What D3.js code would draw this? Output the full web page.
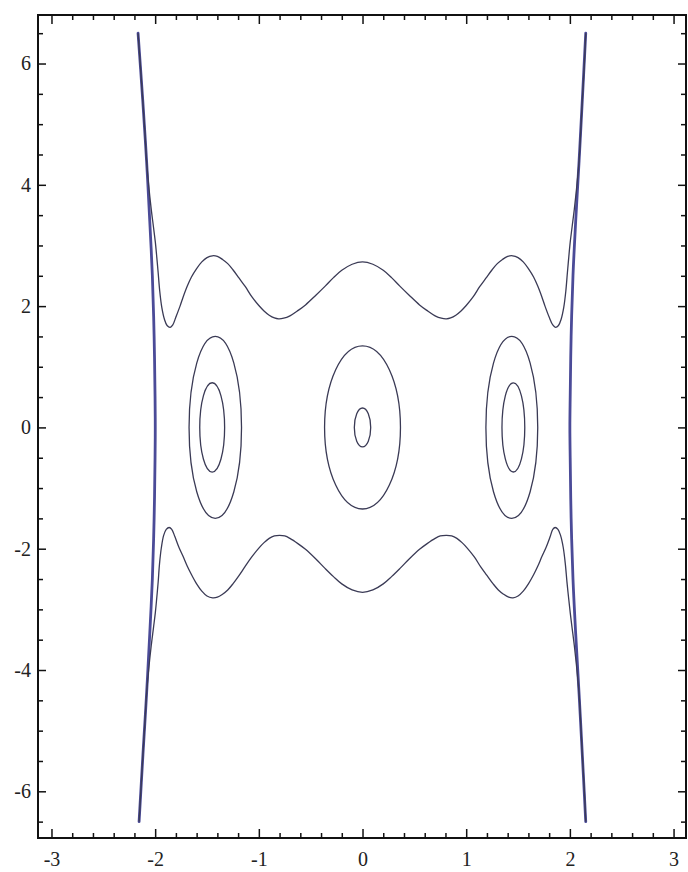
<!DOCTYPE html>
<html>
<head>
<meta charset="utf-8">
<script src="https://cdn.jsdelivr.net/npm/d3@7"></script>
<style>
  body { margin: 0; background: #fff; }
  svg { display: block; }
</style>
</head>
<body>
<script>
// contour lines of a 1-d potential phase portrait

var xMajor = [-3, -2, -1, 0, 1, 2, 3];
var xLabels = ["-3", "-2", "-1", "0", "1", "2", "3"];
var yMajor = [-6, -4, -2, 0, 2, 4, 6];
var yLabels = ["-6", "-4", "-2", "0", "2", "4", "6"];

// outer walls (thick, bluish)
var wallLeft = [[-2.165,6.5],[-2.12,5.4],[-2.083,4.4],[-2.052,3.4],[-2.027,2.5],[-2.01,1.5],[-2.001,0.5],[-1.999,0],
  [-2.001,-0.5],[-2.01,-1.5],[-2.027,-2.5],[-2.052,-3.4],[-2.083,-4.4],[-2.118,-5.4],[-2.155,-6.5]];
var wallRight = [[2.153,6.5],[2.12,5.4],[2.089,4.4],[2.056,3.4],[2.03,2.5],[2.012,1.5],[2.003,0.5],[2.0,0],
  [2.003,-0.5],[2.012,-1.5],[2.03,-2.5],[2.056,-3.4],[2.089,-4.4],[2.12,-5.4],[2.153,-6.5]];

// wavy open contours, running down/up along the walls
var waveTop = [[-2.165,6.5],[-2.14,5.9],[-2.12,5.4],[-2.1,4.9],[-2.083,4.4],[-2.063,4.0],[-2.038,3.6],[-2.016,3.3],
  [-1.998,3.05],[-1.984,2.8],[-1.971,2.55],[-1.956,2.25],[-1.936,1.98],[-1.91,1.78],[-1.885,1.68],[-1.855,1.65],
  [-1.83,1.69],[-1.8,1.82],[-1.76,2.0],[-1.73,2.15],[-1.69,2.33],[-1.65,2.48],[-1.6,2.62],[-1.55,2.73],[-1.5,2.8],
  [-1.448,2.83],[-1.4,2.82],[-1.35,2.77],[-1.3,2.7],[-1.25,2.6],[-1.19,2.46],[-1.13,2.32],[-1.07,2.16],[-1.0,2.01],
  [-0.95,1.92],[-0.9,1.85],[-0.85,1.805],[-0.81,1.79],[-0.76,1.8],[-0.7,1.84],[-0.62,1.93],[-0.55,2.02],[-0.45,2.18],
  [-0.36,2.33],[-0.28,2.47],[-0.2,2.59],[-0.1,2.69],[0,2.73],
  [0.1,2.69],[0.2,2.59],[0.28,2.47],[0.36,2.33],[0.45,2.18],[0.55,2.02],[0.62,1.93],[0.7,1.84],[0.76,1.8],[0.81,1.79],
  [0.85,1.805],[0.9,1.85],[0.95,1.92],[1.0,2.01],[1.07,2.16],[1.13,2.32],[1.19,2.46],[1.25,2.6],[1.3,2.7],[1.35,2.77],
  [1.4,2.82],[1.448,2.83],[1.5,2.8],[1.55,2.73],[1.6,2.62],[1.65,2.48],[1.69,2.33],[1.73,2.15],[1.76,2.0],[1.8,1.82],
  [1.835,1.69],[1.862,1.65],[1.89,1.68],[1.915,1.78],[1.941,1.98],[1.961,2.25],[1.976,2.55],[1.989,2.8],[2.003,3.05],
  [2.021,3.3],[2.043,3.6],[2.068,4.0],[2.089,4.4],[2.105,4.9],[2.12,5.4],[2.137,5.9],[2.153,6.5]];
var waveBottom = [[-2.155,-6.5],[-2.135,-5.9],[-2.118,-5.4],[-2.1,-4.9],[-2.083,-4.4],[-2.063,-4.0],[-2.038,-3.6],
  [-2.016,-3.3],[-1.998,-3.05],[-1.984,-2.8],[-1.971,-2.55],[-1.958,-2.25],[-1.94,-1.98],[-1.918,-1.78],[-1.893,-1.68],
  [-1.865,-1.65],[-1.84,-1.68],[-1.81,-1.8],[-1.77,-1.98],[-1.73,-2.13],[-1.69,-2.29],[-1.649,-2.43],[-1.6,-2.58],
  [-1.55,-2.7],[-1.5,-2.78],[-1.446,-2.81],[-1.4,-2.8],[-1.35,-2.75],[-1.3,-2.68],[-1.25,-2.58],[-1.19,-2.44],
  [-1.135,-2.3],[-1.07,-2.14],[-1.0,-1.99],[-0.95,-1.9],[-0.9,-1.83],[-0.85,-1.79],[-0.8,-1.78],[-0.75,-1.79],
  [-0.7,-1.83],[-0.62,-1.92],[-0.55,-2.01],[-0.45,-2.17],[-0.364,-2.32],[-0.28,-2.46],[-0.2,-2.58],[-0.1,-2.68],
  [0,-2.72],
  [0.1,-2.68],[0.2,-2.58],[0.28,-2.46],[0.364,-2.32],[0.45,-2.17],[0.55,-2.01],[0.62,-1.92],[0.7,-1.83],[0.75,-1.79],
  [0.81,-1.78],[0.86,-1.79],[0.91,-1.83],[0.96,-1.9],[1.01,-1.99],[1.08,-2.14],[1.14,-2.3],[1.2,-2.44],[1.26,-2.58],
  [1.31,-2.68],[1.36,-2.75],[1.41,-2.8],[1.452,-2.81],[1.5,-2.78],[1.55,-2.7],[1.6,-2.58],[1.65,-2.43],[1.69,-2.29],
  [1.73,-2.13],[1.77,-1.98],[1.81,-1.8],[1.835,-1.68],[1.858,-1.65],[1.885,-1.68],[1.91,-1.78],[1.936,-1.98],
  [1.956,-2.25],[1.972,-2.55],[1.987,-2.8],[2.003,-3.05],[2.021,-3.3],[2.043,-3.6],[2.068,-4.0],[2.089,-4.4],
  [2.105,-4.9],[2.12,-5.4],[2.137,-5.9],[2.153,-6.5]];

// closed orbits: centre x, half width, half height (data units)
var orbitCx = [0, 0, -1.42, -1.45, 1.44, 1.455];
var orbitRx = [0.079, 0.366, 0.253, 0.12, 0.25, 0.11];
var orbitRy = [0.32, 1.345, 1.5, 0.736, 1.5, 0.735];

var width = 688, height = 872;
var frameL = 38, frameR = 686, frameT = 15, frameB = 838;

var svg = d3.select("body").append("svg")
    .attr("width", width)
    .attr("height", height);

var x = d3.scaleLinear().domain([-3.13, 3.12]).range([frameL, frameR]);
var y = d3.scaleLinear().domain([-6.77, 6.8]).range([frameB, frameT]);

var lineColor = "#3a3a55",
    wallColor = "#4b4b98";

var line = d3.line()
    .x(function(d) { return x(d[0]); })
    .y(function(d) { return y(d[1]); })
    .curve(d3.curveCatmullRom.alpha(0.5));

var plot = svg.append("g");

[wallLeft, wallRight].forEach(function(w) {
    plot.append("path")
        .attr("d", line(w))
        .attr("fill", "none")
        .attr("stroke", wallColor)
        .attr("stroke-width", 2.8)
        .attr("stroke-linecap", "round");
});

[waveTop, waveBottom].forEach(function(w) {
    plot.append("path")
        .attr("d", line(w))
        .attr("fill", "none")
        .attr("stroke", lineColor)
        .attr("stroke-width", 1.3);
});

plot.selectAll("ellipse.orbit")
    .data(orbitCx)
    .enter().append("ellipse")
    .attr("class", "orbit")
    .attr("cx", function(d) { return x(d); })
    .attr("cy", y(0))
    .attr("rx", function(d, i) { return x(d + orbitRx[i]) - x(d); })
    .attr("ry", function(d, i) { return y(0) - y(orbitRy[i]); })
    .attr("fill", "none")
    .attr("stroke", lineColor)
    .attr("stroke-width", 1.3);

// frame + ticks (pointing inward on all four sides)
var xMinor = d3.range(-3, 3.01, 0.2).filter(function(v) { return Math.abs(v - Math.round(v)) > 1e-6; });
var yMinor = d3.range(-6.5, 6.51, 0.5).filter(function(v) { return Math.abs(v / 2 - Math.round(v / 2)) > 1e-6; });

function styleAxis(g) {
    g.select(".domain").remove();
    g.selectAll(".tick line").attr("stroke", "#111").attr("stroke-width", 1.5);
    g.selectAll("text")
        .attr("fill", "#222")
        .style("font-family", "'Liberation Serif', 'DejaVu Serif', serif")
        .style("font-size", "20px");
}

var fmtX = function(d) { return xLabels[xMajor.indexOf(d)]; };
var fmtY = function(d) { return yLabels[yMajor.indexOf(d)]; };

svg.append("g").attr("transform", "translate(0," + frameB + ")")
    .call(d3.axisBottom(x).tickValues(xMajor).tickSize(-9).tickPadding(14).tickFormat(fmtX))
    .call(styleAxis);
svg.append("g").attr("transform", "translate(0," + frameB + ")")
    .call(d3.axisBottom(x).tickValues(xMinor).tickSize(-5).tickFormat(""))
    .call(styleAxis);
svg.append("g").attr("transform", "translate(0," + frameT + ")")
    .call(d3.axisTop(x).tickValues(xMajor).tickSize(-9).tickFormat(""))
    .call(styleAxis);
svg.append("g").attr("transform", "translate(0," + frameT + ")")
    .call(d3.axisTop(x).tickValues(xMinor).tickSize(-5).tickFormat(""))
    .call(styleAxis);

svg.append("g").attr("transform", "translate(" + frameL + ",0)")
    .call(d3.axisLeft(y).tickValues(yMajor).tickSize(-8).tickPadding(7).tickFormat(fmtY))
    .call(styleAxis);
svg.append("g").attr("transform", "translate(" + frameL + ",0)")
    .call(d3.axisLeft(y).tickValues(yMinor).tickSize(-5).tickFormat(""))
    .call(styleAxis);
svg.append("g").attr("transform", "translate(" + frameR + ",0)")
    .call(d3.axisRight(y).tickValues(yMajor).tickSize(-8).tickFormat(""))
    .call(styleAxis);
svg.append("g").attr("transform", "translate(" + frameR + ",0)")
    .call(d3.axisRight(y).tickValues(yMinor).tickSize(-5).tickFormat(""))
    .call(styleAxis);

svg.append("rect")
    .attr("x", frameL).attr("y", frameT)
    .attr("width", frameR - frameL).attr("height", frameB - frameT)
    .attr("fill", "none")
    .attr("stroke", "#111")
    .attr("stroke-width", 2);
</script>
</body>
</html>
